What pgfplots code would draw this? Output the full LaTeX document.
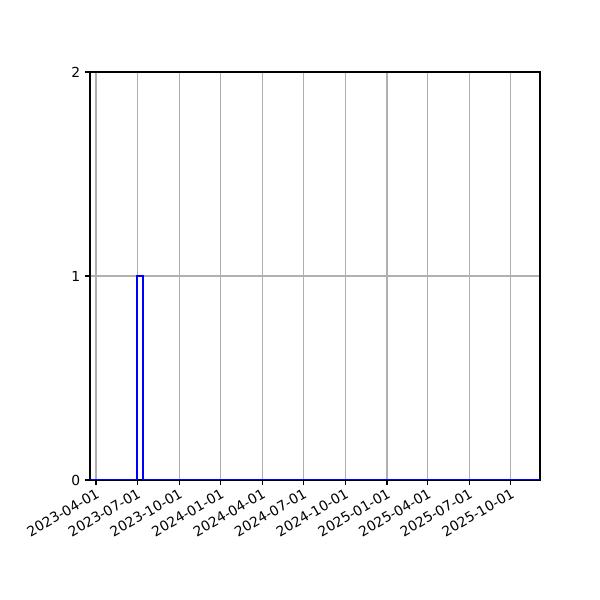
\documentclass[border=0pt]{standalone}
\usepackage{fontspec}
\setmainfont{DejaVu Sans}
\usepackage{pgfplots}
\pgfplotsset{compat=1.18}

\begin{document}
\begin{tikzpicture}
\useasboundingbox (0,0) rectangle (432bp,432bp);
% days counted from 2023-04-01
\begin{axis}[
  at={(64.8bp,86.4bp)}, anchor=south west,
  scale only axis, width=324bp, height=293.76bp,
  xmin=-13.2, xmax=978,
  ymin=0, ymax=2,
  ytick={0,1,2},
  xtick={0,91,183,275,366,457,549,641,731,822,914},
  xticklabels={2023-04-01,2023-07-01,2023-10-01,2024-01-01,2024-04-01,2024-07-01,2024-10-01,2025-01-01,2025-04-01,2025-07-01,2025-10-01},
  xticklabel style={rotate=30, anchor=north east, inner sep=1.5pt, font=\fontsize{10}{12}\selectfont},
  yticklabel style={font=\fontsize{10}{12}\selectfont},
  /pgf/number format/assume math mode=true,
  tick align=outside,
  major tick length=3.5bp,
  xtick pos=bottom, ytick pos=left,
  tick style={black, line width=0.8bp},
  axis line style={line width=0.8bp},
  grid=major,
  major grid style={color=black!31, line width=0.8bp},
  clip=true,
]
\addplot [blue, line width=1.5bp, const plot, line join=miter]
coordinates {
(-13.2, 0)
(90,    0)
(90,    1)
(103.5, 1)
(103.5, 0)
(978,   0)
};
\end{axis}
\end{tikzpicture}
\end{document}
